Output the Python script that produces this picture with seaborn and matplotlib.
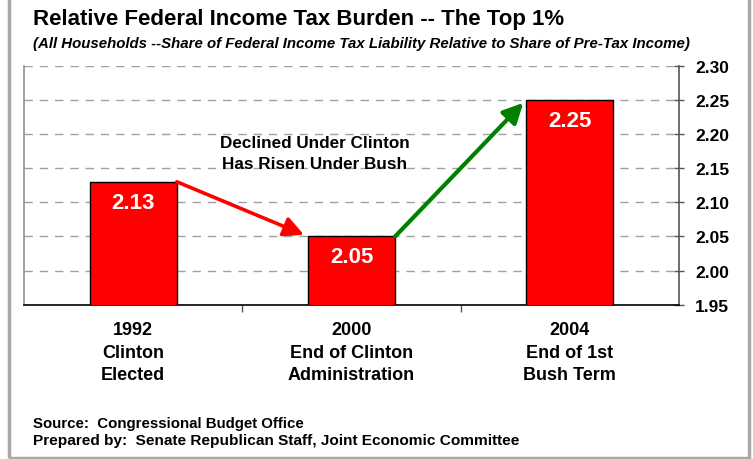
import matplotlib
matplotlib.use("Agg")
import matplotlib.pyplot as plt
from matplotlib.patches import Rectangle
import seaborn as sns
import pandas as pd

# Chart data
years = ["1992", "2000", "2004"]
descriptions = ["Clinton\nElected", "End of Clinton\nAdministration", "End of 1st\nBush Term"]
burden = [2.13, 2.05, 2.25]
y_ticks = [1.95, 2.00, 2.05, 2.10, 2.15, 2.20, 2.25, 2.30]

categories = [f"{y}\n{d}" for y, d in zip(years, descriptions)]
df = pd.DataFrame({"period": categories, "burden": burden})

sns.set_theme(style="white")
plt.rcParams["font.family"] = ["Liberation Sans", "DejaVu Sans"]
plt.rcParams["text.color"] = "black"
plt.rcParams["xtick.color"] = "black"
plt.rcParams["ytick.color"] = "black"
plt.rcParams["xtick.labelcolor"] = "black"
plt.rcParams["ytick.labelcolor"] = "black"

fig = plt.figure(figsize=(7.53, 4.60), dpi=100)
ax = fig.add_axes([0.0319, 0.3354, 0.8698, 0.5196])

bar_w = 0.4
sns.barplot(data=df, x="period", y="burden", order=categories, color="#ff0000",
            saturation=1, width=bar_w, edgecolor="black", linewidth=1.0, ax=ax, zorder=3)

ax.set_ylim(1.95, 2.30)
ax.set_xlim(-0.5, 2.5)
ax.set_xlabel("")
ax.set_ylabel("")

# Value labels inside the bars
for i, v in enumerate(burden):
    ax.text(i, v - 0.030, f"{v:.2f}", ha="center", va="center", color="white",
            fontsize=16, fontweight="bold", zorder=5)

# Right-hand value axis with dashed grid
ax.yaxis.tick_right()
ax.set_yticks(y_ticks)
ax.set_yticklabels([f"{t:.2f}" for t in y_ticks], fontsize=12.5, fontweight="bold")
ax.tick_params(axis="y", which="major", direction="inout", length=7, width=1.0,
               color="#555555", pad=8, right=True, left=False)
for t in y_ticks[1:]:
    ax.axhline(t, color="#a0a0a0", linestyle=(0, (6, 5)), linewidth=1.0, zorder=1)

# Category axis: labels under bars, tick marks between categories
ax.set_xticks(range(len(categories)))
ax.set_xticklabels(categories, fontsize=13, fontweight="bold", linespacing=1.42)
ax.tick_params(axis="x", which="major", length=0, pad=12, bottom=False)
ax.set_xticks([0.5, 1.5], minor=True)
ax.tick_params(axis="x", which="minor", direction="out", length=5, width=1.0,
               color="#555555", bottom=True)

ax.spines["top"].set_visible(False)
ax.spines["left"].set_color("#909090")
ax.spines["left"].set_linewidth(1.2)
ax.spines["right"].set_color("#555555")
ax.spines["right"].set_linewidth(1.2)
ax.spines["bottom"].set_color("black")
ax.spines["bottom"].set_linewidth(1.2)

# Trend arrows connecting bar tops
ax.annotate("", xy=(1 - bar_w / 2, burden[1]), xytext=(0 + bar_w / 2, burden[0]),
            arrowprops=dict(arrowstyle="-|>,head_length=1.0,head_width=0.5", color="#ff0000",
                            lw=2.6, shrinkA=0, shrinkB=3), zorder=6)
ax.annotate("", xy=(2 - bar_w / 2, burden[2]), xytext=(1 + bar_w / 2, burden[1]),
            arrowprops=dict(arrowstyle="-|>,head_length=1.0,head_width=0.5", color="#008000",
                            lw=3.0, shrinkA=0, shrinkB=3), zorder=6)

ax.text(0.83, 2.172, "Declined Under Clinton\nHas Risen Under Bush", ha="center", va="center",
        fontsize=12.3, fontweight="bold", linespacing=1.5, zorder=6)

# Titles and notes
fig.text(33 / 753, 1 - 19 / 460, "Relative Federal Income Tax Burden -- The Top 1%",
         fontsize=16, fontweight="bold", ha="left", va="center")
fig.text(33 / 753, 1 - 44 / 460,
         "(All Households --Share of Federal Income Tax Liability Relative to Share of Pre-Tax Income)",
         fontsize=10.8, fontweight="bold", fontstyle="italic", ha="left", va="center")
fig.text(33 / 753, 1 - 424 / 460, "Source:  Congressional Budget Office",
         fontsize=10.8, fontweight="bold", ha="left", va="center")
fig.text(33 / 753, 1 - 441 / 460, "Prepared by:  Senate Republican Staff, Joint Economic Committee",
         fontsize=11.1, fontweight="bold", ha="left", va="center")

# Outer frame
fig.patches.append(Rectangle((8.5 / 753, 1.5 / 460), (749 - 8.5) / 753, 1.2,
                             transform=fig.transFigure, fill=False,
                             edgecolor="#a8a8a8", linewidth=2.5, zorder=0))

fig.savefig("out.png", dpi=100, facecolor="white")
